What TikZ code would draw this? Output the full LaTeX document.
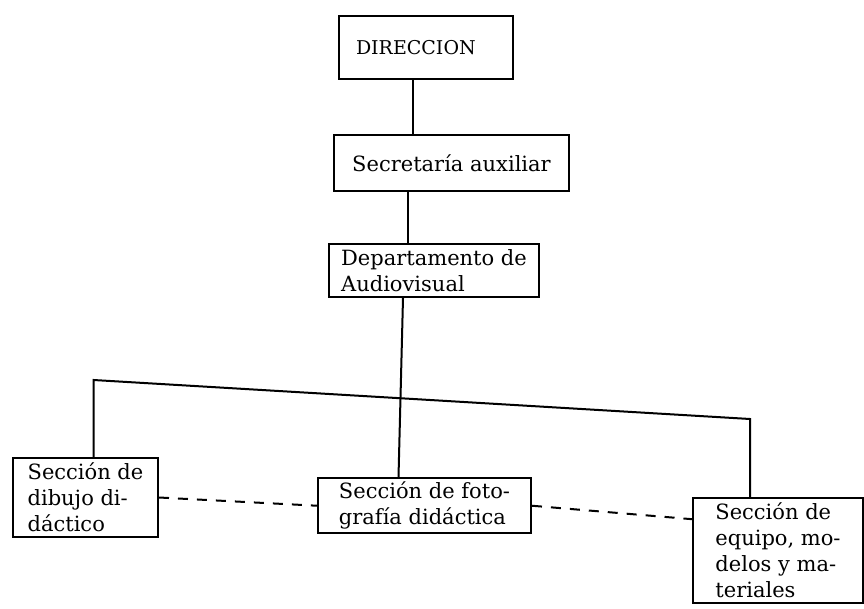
\documentclass[tikz,border=0pt]{standalone}
\usepackage{fontspec}
\setmainfont{DejaVu Serif}
\tikzset{
  unidad/.style={draw, line width=2pt, anchor=north west, align=left, inner sep=4pt, font=\fontsize{21}{26}\selectfont},
  enlace/.style={line width=2pt},
  punteado/.style={line width=2pt, dash pattern=on 10pt off 9pt}
}
\begin{document}
\begin{tikzpicture}[x=1pt,y=-1pt]
\useasboundingbox (0,0) rectangle (864,609);

\node[unidad, inner xsep=17pt, text width=140pt, minimum height=63pt, font=\fontsize{19}{24}\selectfont] (dir) at (338,15) {DIRECCION};
\node[unidad, minimum width=235pt, minimum height=56pt] (sec) at (333,134) {Secretaría auxiliar};
\node[unidad, minimum width=210pt, minimum height=53pt] (dep) at (328,243) {Departamento de\\Audiovisual};
\node[unidad, minimum width=145pt, minimum height=79pt] (dib) at (12,457) {Sección de\\dibujo di-\\dáctico};
\node[unidad, minimum width=213pt, minimum height=53pt] (fot) at (317,477) {Sección de foto-\\grafía didáctica};
\node[unidad, minimum width=170pt, minimum height=105pt] (equ) at (692,497) {Sección de\\equipo, mo-\\delos y ma-\\teriales};

\coordinate (barL) at ([xshift=8pt,yshift=77pt]dib.north);
\coordinate (barR) at ([xshift=-28pt,yshift=78pt]equ.north);

\draw[enlace] ([xshift=-13pt]dir.south) -- ([xshift=-13pt]dir.south |- sec.north);
\draw[enlace] ([xshift=-44pt]sec.south) -- ([xshift=-44pt]sec.south |- dep.north);
\draw[enlace] ([xshift=-31pt]dep.south) -- ([xshift=-26pt]fot.north);
\draw[enlace] ([xshift=8pt]dib.north) -- (barL) -- (barR) -- ([xshift=-28pt]equ.north);

\draw[punteado] (dib.east) -- (fot.west);
\draw[punteado] (fot.east) -- (equ.160);
\end{tikzpicture}
\end{document}
